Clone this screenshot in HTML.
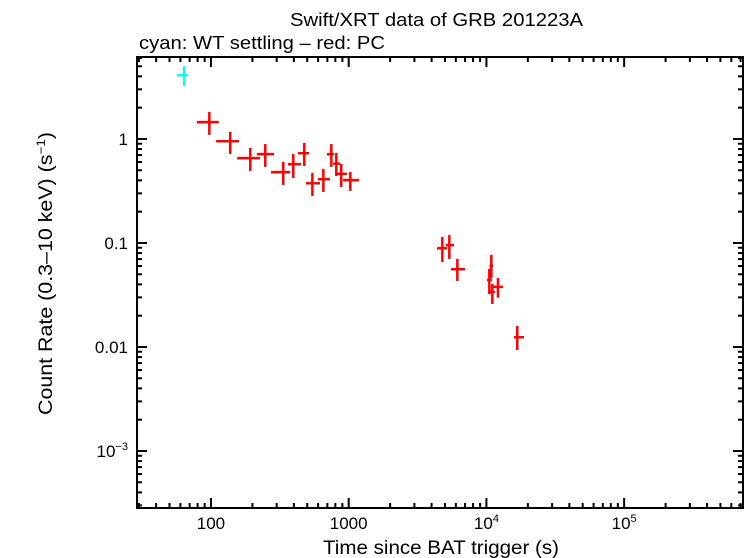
<!DOCTYPE html>
<html><head><meta charset="utf-8"><style>
body{margin:0;background:#fff;width:746px;height:558px;overflow:hidden}
svg{display:block;font-family:"Liberation Sans",sans-serif}
</style></head><body>
<svg id="chart" width="746" height="558" xmlns="http://www.w3.org/2000/svg">
<text x="290" y="26" font-size="18" textLength="293" lengthAdjust="spacingAndGlyphs">Swift/XRT data of GRB 201223A</text>
<text x="139" y="49" font-size="18" textLength="246" lengthAdjust="spacingAndGlyphs">cyan: WT settling – red: PC</text>
<text x="323" y="554" font-size="19" textLength="236" lengthAdjust="spacingAndGlyphs">Time since BAT trigger (s)</text>
<text transform="translate(52,415) rotate(-90)" font-size="19" textLength="283" lengthAdjust="spacingAndGlyphs">Count Rate (0.3–10 keV) (s<tspan font-size="12" dy="-7">−1</tspan><tspan dy="7">)</tspan></text>
<g id="marks"></g>
<g id="axes"></g>
</svg>
<script>
const wtTime=[64], wtTimeLo=[56.6], wtTimeHi=[68], wtRate=[4.1], wtRateLo=[3.21], wtRateHi=[5.03];
const pcTime=[97.3,138,193,248,335,396,476,545,655,748,813,883,1028,4786,5380,6150,10860,10500,11040,12130,16750];
const pcTimeLo=[79,109,155,216,273,362,428,490,599,696,769,809,910,4380,5090,5540,10530,10100,10620,11170,15850];
const pcTimeHi=[114,160,227,287,375,451,515,619,731,782,865,972,1189,5180,5820,7000,11170,10990,11530,13200,18750];
const pcRate=[1.447,0.95,0.652,0.713,0.478,0.571,0.729,0.375,0.41,0.713,0.579,0.461,0.401,0.0889,0.0951,0.0559,0.0601,0.0441,0.0338,0.0378,0.0124];
const pcRateLo=[1.093,0.717,0.492,0.538,0.361,0.422,0.55,0.283,0.309,0.538,0.441,0.345,0.316,0.0657,0.0702,0.0431,0.046,0.0323,0.0259,0.0298,0.00936];
const pcRateHi=[1.82,1.17,0.82,0.895,0.601,0.717,0.915,0.471,0.515,0.895,0.734,0.575,0.482,0.114,0.119,0.0702,0.0767,0.0562,0.0403,0.046,0.0159];
const xTickVals=[100,1000,10000,100000];
const xTickLabels=["100","1000","10<sup>4</sup>","10<sup>5</sup>"];
const yTickVals=[1,0.1,0.01,0.001];
const yTickLabels=["1","0.1","0.01","10<sup>−3</sup>"];

const L=137,R=743,T=57,B=508;
const xmin=1.463,xmax=5.863,ymin=-3.548,ymax=0.788;
const X=v=>L+(Math.log10(v)-xmin)/(xmax-xmin)*(R-L);
const Y=v=>B-(Math.log10(v)-ymin)/(ymax-ymin)*(B-T);
const NS="http://www.w3.org/2000/svg";
function mk(tag,attrs,parent){const e=document.createElementNS(NS,tag);for(const k in attrs)e.setAttribute(k,attrs[k]);parent.appendChild(e);return e;}
const axes=document.getElementById('axes'), marks=document.getElementById('marks');
const frame=mk('rect',{x:L,y:T,width:R-L,height:B-T,fill:'none',stroke:'#000','stroke-width':2},axes);


function lab(x,y,html,anchor,name){
  const t=mk('text',{x:x,y:y,'font-size':17,'text-anchor':anchor},axes);
  
  
  const m=html.match(/^(.*)<sup>(.*)<\/sup>$/);
  if(m){t.textContent=m[1];const s=mk('tspan',{'font-size':11,dy:-7},t);s.textContent=m[2];}
  else t.textContent=html;
}
for(let d=1;d<=5;d++)for(let k=1;k<10;k++){
  const v=k*Math.pow(10,d);const lv=Math.log10(v);if(lv<xmin||lv>xmax)continue;
  const x=X(v),len=k==1?10:5;
  const t1=mk('line',{x1:x,x2:x,y1:B,y2:B-len,stroke:'#000','stroke-width':2},axes);
  
  
  const t2=mk('line',{x1:x,x2:x,y1:T,y2:T+len,stroke:'#000','stroke-width':2},axes);
  
  
}
for(let d=-4;d<=0;d++)for(let k=1;k<10;k++){
  const v=k*Math.pow(10,d);const lv=Math.log10(v);if(lv<ymin||lv>ymax)continue;
  const y=Y(v),len=k==1?10:5;
  const t1=mk('line',{x1:L,x2:L+len,y1:y,y2:y,stroke:'#000','stroke-width':2},axes);
  
  
  const t2=mk('line',{x1:R,x2:R-len,y1:y,y2:y,stroke:'#000','stroke-width':2},axes);
  
  
}
xTickVals.forEach((v,i)=>lab(X(v),529,xTickLabels[i],'middle','x-tick-label'));
yTickVals.forEach((v,i)=>lab(L-9,Y(v)+6,yTickLabels[i],'end','y-tick-label'));
function pts(t,tl,th,r,rl,rh,color,name){
  for(let i=0;i<t.length;i++){
    const g=mk('g',{stroke:color,'stroke-width':2.5},marks);
    
    
    mk('line',{x1:X(tl[i]),x2:X(th[i]),y1:Y(r[i]),y2:Y(r[i])},g);
    mk('line',{x1:X(t[i]),x2:X(t[i]),y1:Y(rl[i]),y2:Y(rh[i])},g);
  }
}
pts(wtTime,wtTimeLo,wtTimeHi,wtRate,wtRateLo,wtRateHi,'#00ffff','wt-point');
pts(pcTime,pcTimeLo,pcTimeHi,pcRate,pcRateLo,pcRateHi,'#ff0000','pc-point');
</script>
</body></html>
